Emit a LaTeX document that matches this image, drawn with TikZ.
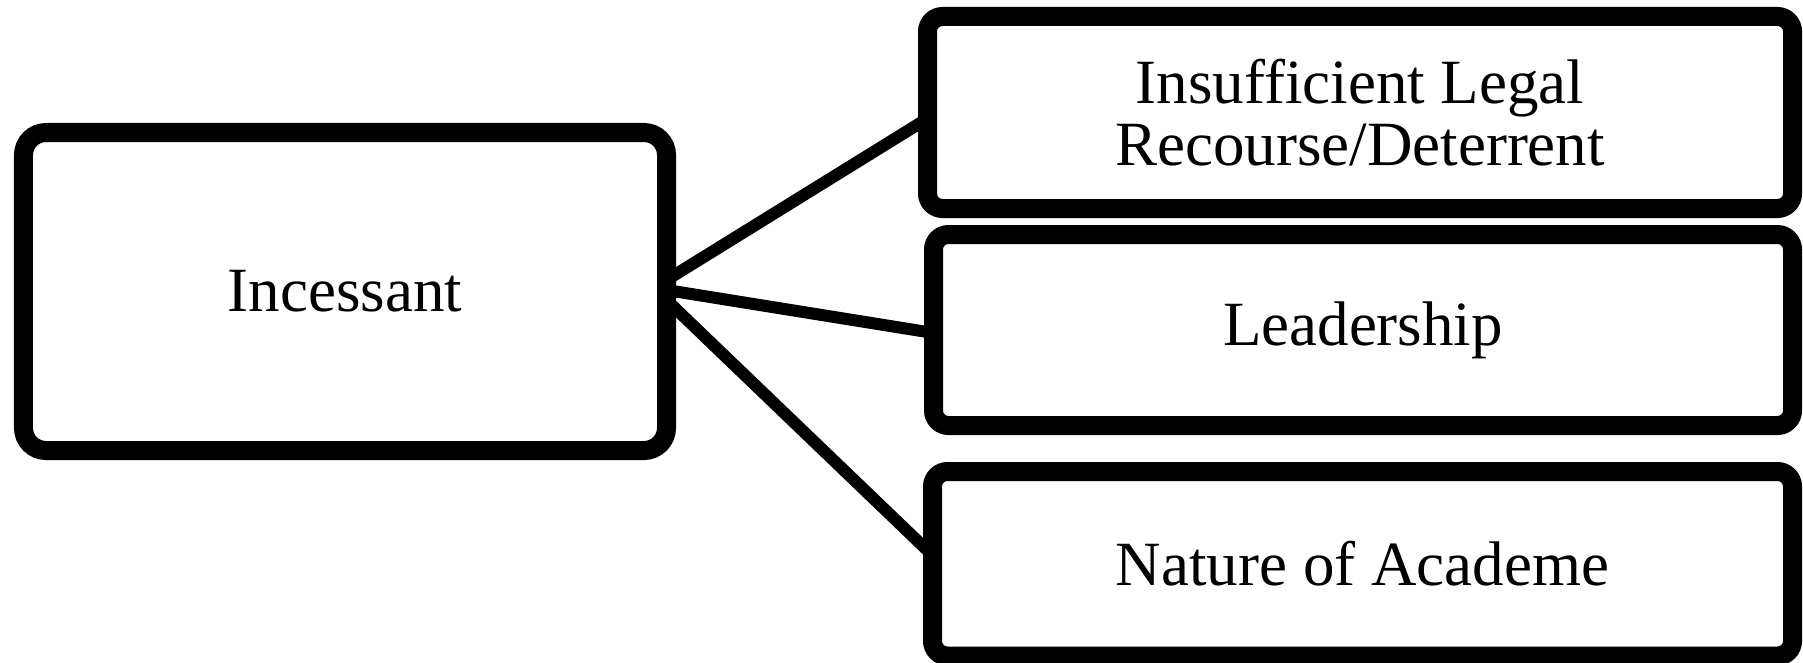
\documentclass[tikz,border=0pt]{standalone}
\usepackage{fontspec}
\setmainfont{Liberation Serif}
\usetikzlibrary{shadows}
\begin{document}
\begin{tikzpicture}[x=0.4pt,y=0.4pt,
  box/.style={draw=black, fill=white, line width=7.6pt, rounded corners=6pt,
    inner sep=0pt, align=center,
    font=\fontsize{25.2}{24.6}\selectfont,
    drop shadow={shadow xshift=1.2pt, shadow yshift=-2pt, opacity=0.15, fill=black}},
  link/.style={draw=black, line width=4.8pt}]
\useasboundingbox (0,0) rectangle (1803,662);
\node[box, rounded corners=9pt, minimum width=257.2pt, minimum height=127.2pt] (L) at (345,370.5) {Incessant};
\node[box, minimum width=346pt, minimum height=76.8pt] (T) at (1360,549.5) {Insufficient Legal\\Recourse/Deterrent};
\node[box, minimum width=343.6pt, minimum height=76.4pt] (M) at (1363,332) {Leadership};
\node[box, minimum width=344pt, minimum height=73.8pt] (B) at (1362.5,98.25) {Nature of Academe};
\draw[link] ([xshift=-3.8pt,yshift=4.6pt]L.east) -- ([xshift=3.8pt,yshift=-2.4pt]T.west);
\draw[link] ([xshift=-3.8pt,yshift=0.6pt]L.east) -- ([xshift=3.8pt,yshift=-1.2pt]M.west);
\draw[link] ([xshift=-3.8pt,yshift=-3.4pt]L.east) -- ([xshift=3.8pt,yshift=3.4pt]B.west);
\end{tikzpicture}
\end{document}
